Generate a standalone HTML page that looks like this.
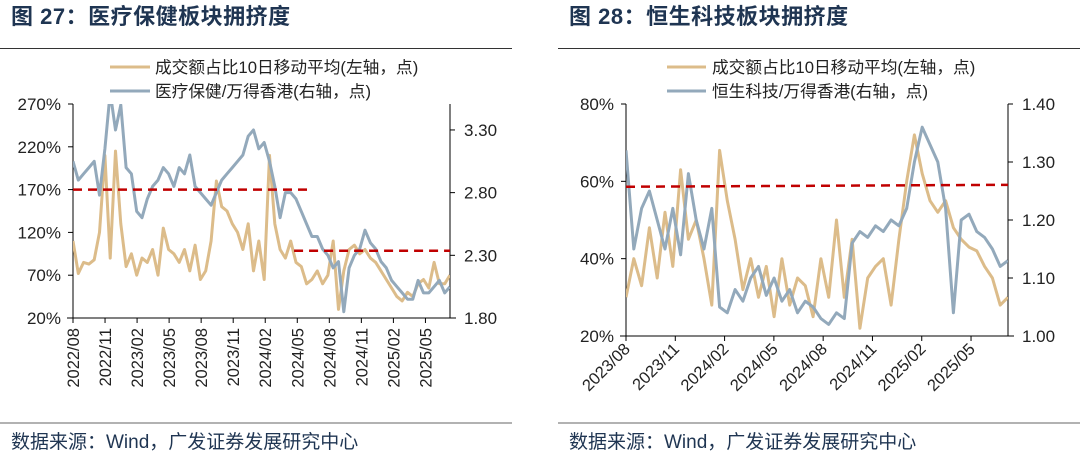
<!DOCTYPE html>
<html><head><meta charset="utf-8">
<style>
html,body{margin:0;padding:0;background:#fff;}
body{width:1080px;height:461px;overflow:hidden;font-family:"Liberation Sans","Noto Sans CJK SC",sans-serif;}
svg text{font-family:"Liberation Sans","Noto Sans CJK SC",sans-serif;}
</style></head>
<body>
<svg id="root" width="1080" height="461" viewBox="0 0 1080 461" xmlns="http://www.w3.org/2000/svg">
<defs>
<clipPath id="clipL"><rect x="73" y="104" width="377" height="214"/></clipPath>
<clipPath id="clipR"><rect x="626" y="104" width="382" height="232"/></clipPath>
</defs>
<g>
<text x="11" y="24" font-size="22" font-weight="bold" fill="#1f3552" letter-spacing="0.5">图 27：医疗保健板块拥挤度</text>
<line x1="0" y1="48.5" x2="512" y2="48.5" stroke="#333" stroke-width="1"/>
<line x1="110" y1="67" x2="150" y2="67" stroke="#dcbc8a" stroke-width="3"/>
<text x="155" y="73" font-size="16.7" fill="#222">成交额占比10日移动平均(左轴，点)</text>
<line x1="110" y1="91" x2="150" y2="91" stroke="#93a9bb" stroke-width="3"/>
<text x="155" y="97" font-size="16.7" fill="#222">医疗保健/万得香港(右轴，点)</text>
<g id="gL"></g>
<line x1="0" y1="423" x2="512" y2="423" stroke="#666" stroke-width="1"/>
<text x="11" y="448" font-size="19" fill="#1f3552">数据来源：Wind，广发证券发展研究中心</text>
</g>
<g>
<text x="569" y="24" font-size="22" font-weight="bold" fill="#1f3552" letter-spacing="0.5">图 28：恒生科技板块拥挤度</text>
<line x1="558" y1="48.5" x2="1080" y2="48.5" stroke="#333" stroke-width="1"/>
<line x1="667" y1="67" x2="706" y2="67" stroke="#dcbc8a" stroke-width="3"/>
<text x="712" y="73" font-size="16.7" fill="#222">成交额占比10日移动平均(左轴，点)</text>
<line x1="667" y1="91" x2="706" y2="91" stroke="#93a9bb" stroke-width="3"/>
<text x="712" y="97" font-size="16.7" fill="#222">恒生科技/万得香港(右轴，点)</text>
<g id="gR"></g>
<line x1="558" y1="423" x2="1080" y2="423" stroke="#666" stroke-width="1"/>
<text x="569" y="448" font-size="19" fill="#1f3552">数据来源：Wind，广发证券发展研究中心</text>
</g>
</svg>
<script>
// Left chart data (healthcare)
const leftXLabels = ["2022/08","2022/11","2023/02","2023/05","2023/08","2023/11","2024/02","2024/05","2024/08","2024/11","2025/02","2025/05"];
const leftYTicks = [20,70,120,170,220,270];
const leftYTickLabels = ["20%","70%","120%","170%","220%","270%"];
const leftY2Ticks = [1.80,2.30,2.80,3.30];
const leftY2TickLabels = ["1.80","2.30","2.80","3.30"];
const leftTurnover = [110,72,85,83,88,120,210,90,215,130,80,95,70,90,85,100,70,125,100,95,85,100,75,105,65,75,110,180,150,145,130,120,100,130,75,110,65,210,130,100,90,110,85,80,60,65,75,60,70,110,30,75,100,105,95,100,90,85,75,65,55,45,40,50,45,60,65,55,85,60,60,70];
const leftRatio = [3.05,2.90,2.95,3.00,3.05,2.78,3.15,3.60,3.30,3.50,3.00,2.95,2.65,2.60,2.75,2.85,2.90,3.00,2.95,2.85,3.00,2.95,3.10,2.85,2.80,2.75,2.70,2.80,2.90,2.95,3.00,3.05,3.10,3.25,3.30,3.15,3.20,3.05,2.85,2.60,2.80,2.80,2.75,2.65,2.55,2.45,2.45,2.35,2.30,2.20,2.25,1.85,2.20,2.30,2.35,2.50,2.40,2.35,2.25,2.20,2.10,2.05,2.00,1.95,1.95,2.10,2.00,2.00,2.05,2.10,2.00,2.05];
const leftThresholds = [170, 98.5];
// Right chart data (Hang Seng Tech)
const rightXLabels = ["2023/08","2023/11","2024/02","2024/05","2024/08","2024/11","2025/02","2025/05"];
const rightYTicks = [20,40,60,80];
const rightYTickLabels = ["20%","40%","60%","80%"];
const rightY2Ticks = [1.00,1.10,1.20,1.30,1.40];
const rightY2TickLabels = ["1.00","1.10","1.20","1.30","1.40"];
const rightTurnover = [30,40,33,48,35,52,38,63,45,50,40,28,68,55,45,32,40,30,38,25,40,28,35,33,25,40,30,50,30,45,22,35,38,40,28,45,60,72,62,55,52,55,48,45,43,42,38,35,28,30];
const rightRatio = [1.32,1.15,1.22,1.25,1.20,1.15,1.22,1.14,1.28,1.20,1.15,1.22,1.05,1.04,1.08,1.06,1.10,1.12,1.07,1.10,1.06,1.08,1.04,1.06,1.05,1.03,1.02,1.04,1.03,1.16,1.18,1.17,1.19,1.18,1.20,1.19,1.22,1.30,1.36,1.33,1.30,1.22,1.04,1.20,1.21,1.18,1.17,1.15,1.12,1.13];
const rightThresholds = [58.6, 59.1];

const NS="http://www.w3.org/2000/svg";
function mk(tag, attrs, parent){const e=document.createElementNS(NS,tag);for(const k in attrs)e.setAttribute(k,attrs[k]);parent.appendChild(e);return e;}

function drawChart(g, cfg){
  const {x0,x1,y0,y1,yMin,yMax,y2Min,y2Max,months,clip} = cfg;
  const sy = v => y1 - (v - yMin)/(yMax - yMin)*(y1-y0);
  const sy2 = v => y1 - (v - y2Min)/(y2Max - y2Min)*(y1-y0);
  const sxM = m => x0 + m/months*(x1-x0);
  const sxI = (i,n) => x0 + i/(n-1)*(x1-x0);
  let a=mk('line',{x1:x0,y1:y0,x2:x0,y2:y1,stroke:'#000','stroke-width':1},g);
   
  a=mk('line',{x1:x1,y1:y0,x2:x1,y2:y1,stroke:'#000','stroke-width':1},g);
   
  a=mk('line',{x1:x0-6,y1:y1,x2:x1+6,y2:y1,stroke:'#000','stroke-width':1},g);
   
  cfg.yTicks.forEach((v,i)=>{
    const y=sy(v);
    const t=mk('line',{x1:x0-5,y1:y,x2:x0,y2:y,stroke:'#000'},g);
     
    const tx=mk('text',{x:x0-12,y:y+6,'font-size':17,'text-anchor':'end',fill:'#222'},g);
    tx.textContent=cfg.yLabels[i];
     
  });
  cfg.y2Ticks.forEach((v,i)=>{
    const y=sy2(v);
    const t=mk('line',{x1:x1,y1:y,x2:x1+5,y2:y,stroke:'#000'},g);
     
    const tx=mk('text',{x:x1+14,y:y+6,'font-size':17,fill:'#222'},g);
    tx.textContent=cfg.y2Labels[i];
     
  });
  cfg.xLabels.forEach((lab,i)=>{
    const x=sxM(i*3);
    const t=mk('line',{x1:x,y1:y1,x2:x,y2:y1+5,stroke:'#000'},g);
     
    let tx;
    if(cfg.rot===90){
      tx=mk('text',{x:0,y:0,'font-size':16.5,'text-anchor':'end',fill:'#222',transform:`translate(${x+6},${y1+10}) rotate(-90)`},g);
    } else {
      tx=mk('text',{x:0,y:0,'font-size':16.5,'text-anchor':'end',fill:'#222',transform:`translate(${x+5},${y1+14}) rotate(-45)`},g);
    }
    tx.textContent=lab;
     
  });
  const cg=mk('g',{'clip-path':`url(#${clip})`},g);
   
  const pts1=cfg.s1.map((v,i)=>sxI(i,cfg.s1.length).toFixed(1)+','+sy(v).toFixed(1)).join(' ');
  const p1=mk('polyline',{points:pts1,fill:'none',stroke:'#dcbc8a','stroke-width':3,'stroke-linejoin':'round'},cg);
   
  const pts2=cfg.s2.map((v,i)=>sxI(i,cfg.s2.length).toFixed(1)+','+sy2(v).toFixed(1)).join(' ');
  const p2=mk('polyline',{points:pts2,fill:'none',stroke:'#93a9bb','stroke-width':3,'stroke-linejoin':'round'},cg);
   
  cfg.dashes.forEach(d=>{
    const l=mk('line',{x1:sxM(d.m0),y1:sy(d.v0),x2:sxM(d.m1),y2:sy(d.v1),stroke:'#c00000','stroke-width':2.5,'stroke-dasharray':'9 6'},g);
     
  });
}

drawChart(document.getElementById('gL'),{x0:73,x1:450,y0:104,y1:318,yMin:20,yMax:270,y2Min:1.80,y2Max:3.507,
  months:35.3,clip:'clipL',rot:90,
  yTicks:leftYTicks,yLabels:leftYTickLabels,y2Ticks:leftY2Ticks,y2Labels:leftY2TickLabels,xLabels:leftXLabels,
  s1:leftTurnover,s2:leftRatio,
  dashes:[{m0:0,m1:22.4,v0:leftThresholds[0],v1:leftThresholds[0]},{m0:20.7,m1:35.3,v0:leftThresholds[1],v1:leftThresholds[1]}]});
drawChart(document.getElementById('gR'),{x0:626,x1:1008,y0:104,y1:336,yMin:20,yMax:80,y2Min:1.00,y2Max:1.40,
  months:23.25,clip:'clipR',rot:45,
  yTicks:rightYTicks,yLabels:rightYTickLabels,y2Ticks:rightY2Ticks,y2Labels:rightY2TickLabels,xLabels:rightXLabels,
  s1:rightTurnover,s2:rightRatio,
  dashes:[{m0:0,m1:23.25,v0:rightThresholds[0],v1:rightThresholds[1]}]});
</script>
</body></html>
